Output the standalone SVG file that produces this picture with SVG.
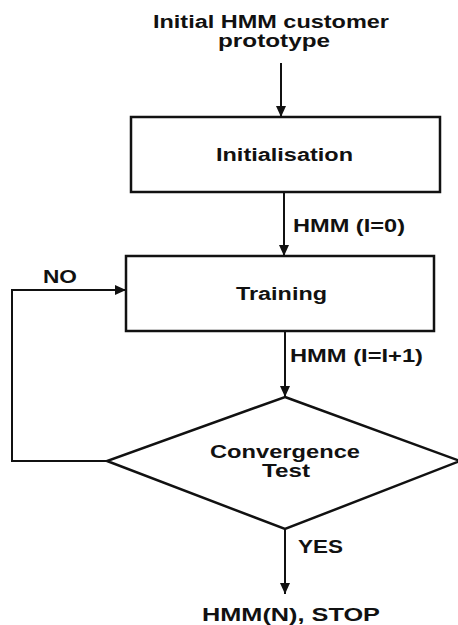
<svg xmlns="http://www.w3.org/2000/svg" width="458" height="625" viewBox="0 0 458 625">
<style>
.t{font-family:"Liberation Sans",Arial,sans-serif;font-weight:bold;font-size:18px;fill:#111}
.box{fill:#fff;stroke:#111;stroke-width:2.5}
.c{fill:none;stroke:#111;stroke-width:2}
</style>
<defs>
<marker id="ah" markerUnits="userSpaceOnUse" markerWidth="12" markerHeight="10" refX="11" refY="5" orient="auto">
<path d="M0,0 L11,5 L0,10 Z" fill="#111"/>
</marker>
</defs>
<rect width="458" height="625" fill="#fff"/>
<g id="connectors">
<line class="c" x1="281" y1="63" x2="281" y2="117" marker-end="url(#ah)"/>
<line class="c" x1="284" y1="192" x2="284" y2="256" marker-end="url(#ah)"/>
<line class="c" x1="285" y1="332" x2="285" y2="397" marker-end="url(#ah)"/>
<line class="c" x1="285" y1="529" x2="285" y2="594" marker-end="url(#ah)"/>
<polyline class="c" points="107,461 12,461 12,290 126,290" marker-end="url(#ah)"/>
<text class="t" x="293" y="232" textLength="112" lengthAdjust="spacingAndGlyphs">HMM (I=0)</text>
<text class="t" x="290" y="362" textLength="133" lengthAdjust="spacingAndGlyphs">HMM (I=I+1)</text>
<text class="t" x="43" y="283" textLength="34" lengthAdjust="spacingAndGlyphs">NO</text>
<text class="t" x="298" y="553" textLength="45" lengthAdjust="spacingAndGlyphs">YES</text>
</g>
<g id="start">
<text class="t" x="153" y="28" textLength="236" lengthAdjust="spacingAndGlyphs">Initial HMM customer</text>
<text class="t" x="218" y="47" textLength="112" lengthAdjust="spacingAndGlyphs">prototype</text>
</g>
<g id="initialisation">
<rect class="box" x="131" y="117" width="309" height="75"/>
<text class="t" x="216" y="161" textLength="137" lengthAdjust="spacingAndGlyphs">Initialisation</text>
</g>
<g id="training">
<rect class="box" x="126" y="256" width="308" height="75"/>
<text class="t" x="236" y="300" textLength="91" lengthAdjust="spacingAndGlyphs">Training</text>
</g>
<g id="convergence">
<polygon class="box" stroke-width="2" points="285,397 460,461 285,529 107,461"/>
<text class="t" x="210" y="458" textLength="150" lengthAdjust="spacingAndGlyphs">Convergence</text>
<text class="t" x="262" y="477" textLength="48" lengthAdjust="spacingAndGlyphs">Test</text>
</g>
<g id="stop">
<text class="t" x="202" y="621" textLength="178" lengthAdjust="spacingAndGlyphs">HMM(N), STOP</text>
</g>
</svg>
